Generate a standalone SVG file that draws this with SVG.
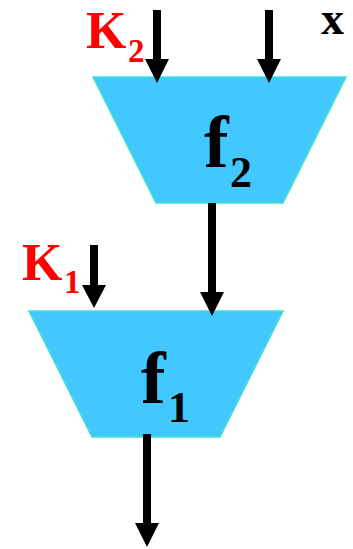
<svg xmlns="http://www.w3.org/2000/svg" width="353" height="549" viewBox="0 0 353 549">
<style>
.blk{fill:#40C8FF;stroke:#40E0D0;stroke-width:1.5}
.lbl{font-family:"Liberation Serif","Times New Roman",serif;font-weight:bold}
.red{fill:#FF0000}
.blackt{fill:#000}
.shaft{stroke:#000;stroke-width:8;fill:none}
.head{fill:#000}
</style>
<rect width="353" height="549" fill="#fff"/>
<g id="f2">
<polygon class="blk" points="93,77 346,77 283,203 156,203"/>
<text class="lbl blackt" x="204" y="167" font-size="74">f</text>
<text class="lbl blackt" x="230" y="187" font-size="44">2</text>
</g>
<g id="f1">
<polygon class="blk" points="29,311 283,311 220,437 92,437"/>
<text class="lbl blackt" x="141" y="403" font-size="74">f</text>
<text class="lbl blackt" x="168" y="422" font-size="44">1</text>
</g>
<g id="K2">
<text class="lbl red" x="86" y="48" font-size="52">K</text>
<text class="lbl red" x="128" y="62" font-size="33">2</text>
</g>
<g id="x">
<text class="lbl blackt" x="321" y="34" font-size="46">x</text>
</g>
<g id="K1">
<text class="lbl red" x="22" y="280" font-size="52">K</text>
<text class="lbl red" x="64" y="293" font-size="33">1</text>
</g>
<g id="connectors">
<line class="shaft" x1="157" y1="10" x2="157" y2="62"/>
<polygon class="head" points="145,59 169,59 157,83"/>
<line class="shaft" x1="269" y1="10" x2="269" y2="62"/>
<polygon class="head" points="257,59 281,59 269,83"/>
<line class="shaft" x1="212" y1="203" x2="212" y2="295"/>
<polygon class="head" points="200,292 224,292 212,316"/>
<line class="shaft" x1="94" y1="245" x2="94" y2="288"/>
<polygon class="head" points="82,285 106,285 94,308"/>
<line class="shaft" x1="147" y1="434" x2="147" y2="526"/>
<polygon class="head" points="135,523 159,523 147,547"/>
</g>
</svg>
